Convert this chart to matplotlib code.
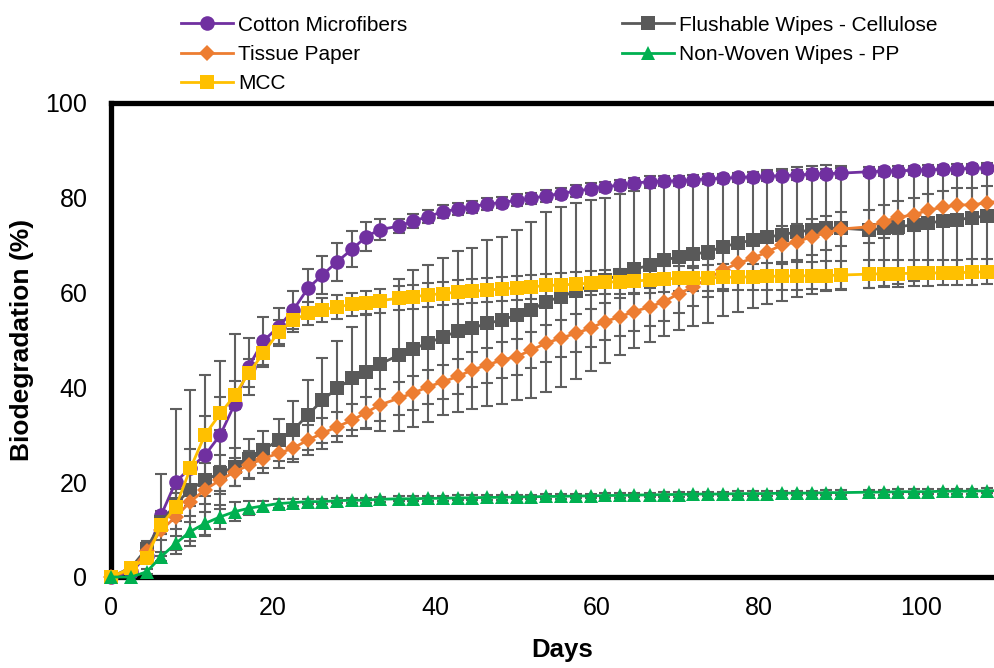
import matplotlib
matplotlib.use("Agg")
import matplotlib.pyplot as plt

plt.rcParams['font.family'] = ['Liberation Sans', 'DejaVu Sans']

days = [0, 2.5, 4.4, 6.2, 8.0, 9.8, 11.6, 13.5, 15.3, 17.0, 18.8, 20.7, 22.5, 24.3, 26.1, 27.9, 29.8, 31.5, 33.2,
        35.5, 37.3, 39.1, 41.0, 42.8, 44.6, 46.4, 48.3, 50.1, 51.9, 53.7, 55.5, 57.4, 59.2, 61.0, 62.8, 64.6,
        66.5, 68.3, 70.1, 71.9, 73.7, 75.6, 77.4, 79.2, 81.0, 82.8, 84.7, 86.5, 88.3, 90.1,
        93.6, 95.4, 97.2, 99.1, 100.9, 102.7, 104.5, 106.3, 108.2, 110.0]

cotton = [0, 1.0, 4.5, 13.1, 20.1, 23.0, 25.7, 30.0, 36.6, 44.4, 49.8, 52.8, 56.3, 60.9, 63.7, 66.5, 69.2, 71.8, 73.3,
          74.0, 75.1, 76.0, 77.1, 77.6, 78.1, 78.7, 79.0, 79.5, 79.9, 80.4, 80.9, 81.4, 81.9, 82.3, 82.7, 83.1,
          83.4, 83.5, 83.6, 83.8, 84.0, 84.1, 84.3, 84.4, 84.5, 84.7, 84.8, 85.0, 85.1, 85.2,
          85.5, 85.6, 85.7, 85.8, 85.9, 86.0, 86.1, 86.2, 86.3, 86.4]
cotton_err = [0, 0.5, 1.5, 8.6, 15.3, 16.4, 17.0, 15.6, 14.7, 6.0, 5.0, 4.0, 4.0, 4.0, 4.0, 4.0, 3.9, 3.0, 2.2,
              1.5, 1.5, 1.4, 1.4, 1.3, 1.3, 1.3, 1.2, 1.2, 1.2, 1.2, 1.2, 1.2, 1.2, 1.1, 1.1, 1.1,
              1.1, 1.1, 1.1, 1.0, 1.0, 1.0, 1.0, 1.0, 1.0, 1.0, 1.0, 1.0, 1.0, 1.0,
              1.0, 1.0, 1.0, 1.0, 1.0, 1.0, 1.0, 1.0, 1.0, 1.0]

flushable = [0, 2.0, 6.0, 11.5, 15.5, 18.4, 20.5, 21.9, 23.3, 25.0, 26.8, 28.9, 31.0, 34.2, 37.3, 39.8, 41.9, 43.3, 44.9,
             46.8, 48.2, 49.3, 50.7, 51.8, 52.5, 53.5, 54.2, 55.3, 56.3, 58.1, 59.1, 60.3, 61.5, 62.6, 63.8, 64.9,
             65.8, 66.8, 67.6, 68.1, 68.6, 69.7, 70.4, 71.1, 71.7, 72.2, 72.8, 73.2, 73.6, 73.6,
             73.2, 73.6, 73.9, 74.3, 74.7, 75.1, 75.4, 75.8, 76.2, 76.5]
flushable_err = [0, 0.5, 1.5, 2.5, 3.0, 3.5, 3.5, 3.8, 4.0, 4.2, 3.9, 4.5, 6.2, 7.4, 9.0, 10.0, 10.9, 12.0, 14.0,
                 16.0, 16.5, 16.5, 16.5, 17.0, 17.0, 17.5, 17.6, 18.0, 18.5, 19.0, 19.0, 18.5, 18.0, 17.4, 17.0, 16.5,
                 16.2, 16.0, 15.5, 15.2, 15.0, 14.7, 14.5, 14.3, 14.1, 13.9, 13.7, 13.5, 13.3, 13.1,
                 12.3, 12.2, 12.0, 11.8, 11.6, 11.4, 11.2, 11.0, 10.8, 10.6]

tissue = [0, 1.5, 5.5, 9.9, 12.7, 15.9, 18.4, 20.5, 22.2, 23.6, 25.0, 26.1, 27.2, 28.9, 30.3, 31.7, 33.1, 34.7, 36.3,
          37.7, 38.8, 40.1, 41.2, 42.3, 43.7, 44.7, 45.8, 46.5, 47.9, 49.3, 50.4, 51.4, 52.5, 53.9, 54.9, 56.0,
          57.0, 58.1, 59.8, 61.2, 63.0, 64.8, 66.2, 67.2, 68.6, 70.0, 70.7, 71.8, 72.6, 73.4,
          73.9, 75.0, 75.9, 76.4, 77.4, 78.0, 78.5, 78.5, 79.0, 79.3]
tissue_err = [0, 0.5, 1.0, 2.0, 2.5, 3.0, 3.0, 3.0, 3.0, 3.0, 3.0, 3.0, 3.0, 3.2, 3.2, 3.2, 3.3, 3.3, 3.4,
              3.5, 3.5, 3.5, 3.6, 3.6, 3.7, 3.7, 3.8, 3.8, 3.8, 3.9, 3.9, 4.0, 4.0, 4.0, 4.0, 4.0,
              4.0, 4.0, 4.0, 4.0, 4.0, 4.0, 4.0, 4.0, 4.0, 4.0, 3.8, 3.8, 3.6, 3.6,
              3.5, 3.5, 3.5, 3.5, 3.5, 3.5, 3.5, 3.5, 3.5, 3.5]

pp = [0, 0, 1.1, 4.3, 7.1, 9.6, 11.3, 12.7, 13.8, 14.5, 15.0, 15.5, 15.7, 15.9, 15.9, 16.1, 16.2, 16.2, 16.4,
      16.5, 16.5, 16.6, 16.6, 16.7, 16.7, 16.8, 16.8, 16.9, 16.9, 17.0, 17.0, 17.1, 17.1, 17.2, 17.2, 17.3,
      17.3, 17.4, 17.4, 17.5, 17.5, 17.5, 17.6, 17.6, 17.6, 17.7, 17.7, 17.7, 17.8, 17.8,
      17.9, 17.9, 18.0, 18.0, 18.0, 18.1, 18.1, 18.1, 18.2, 18.2]
pp_err = [0, 0, 0.5, 1.0, 1.5, 2.0, 2.5, 2.5, 2.0, 1.5, 1.0, 1.0, 0.8, 0.6, 0.6, 0.5, 0.5, 0.5, 0.5,
          0.5, 0.5, 0.5, 0.5, 0.5, 0.5, 0.5, 0.5, 0.5, 0.5, 0.5, 0.5, 0.5, 0.5, 0.5, 0.5, 0.5,
          0.5, 0.5, 0.5, 0.5, 0.5, 0.5, 0.5, 0.5, 0.5, 0.5, 0.5, 0.5, 0.5, 0.5,
          0.5, 0.5, 0.5, 0.5, 0.5, 0.5, 0.5, 0.5, 0.5, 0.5]

mcc = [0, 1.9, 4.0, 11.0, 14.8, 22.9, 30.0, 34.5, 38.4, 43.0, 47.2, 51.7, 54.2, 55.6, 56.3, 57.0, 57.5, 57.9, 58.3,
       58.8, 59.1, 59.5, 59.8, 60.1, 60.3, 60.5, 60.8, 61.0, 61.2, 61.5, 61.6, 61.8, 62.0, 62.2, 62.3, 62.4,
       62.7, 62.9, 63.0, 63.0, 63.1, 63.2, 63.3, 63.3, 63.4, 63.5, 63.5, 63.6, 63.6, 63.7,
       63.9, 64.0, 64.0, 64.1, 64.1, 64.2, 64.2, 64.3, 64.4, 64.4]
mcc_err = [0, 0.5, 1.0, 2.0, 3.0, 4.0, 4.0, 3.5, 3.0, 3.0, 3.0, 2.5, 2.5, 2.5, 2.5, 2.5, 2.5, 2.5, 2.5,
           2.5, 2.5, 2.5, 2.5, 2.5, 2.5, 2.5, 2.5, 2.5, 2.5, 2.5, 2.5, 2.6, 2.6, 2.6, 2.6, 2.6,
           2.7, 2.7, 2.7, 2.7, 2.8, 2.8, 2.8, 2.8, 2.9, 2.9, 2.9, 2.9, 3.0, 3.0,
           2.9, 2.9, 2.8, 2.8, 2.8, 2.7, 2.7, 2.7, 2.6, 2.6]

labels = ["Cotton Microfibers", "Flushable Wipes - Cellulose", "Tissue Paper", "Non-Woven Wipes - PP", "MCC"]
colors = ["#7030A0", "#595959", "#ED7D31", "#00B050", "#FFC000"]
markers = ["o", "s", "D", "^", "s"]
msizes = [10.5, 10, 8.5, 9.5, 10]
series = [cotton, flushable, tissue, pp, mcc]
errors = [cotton_err, flushable_err, tissue_err, pp_err, mcc_err]
zorders = [4, 5, 6, 8, 7]

x_right = 111.4
fig = plt.figure(figsize=(9.95, 6.68), dpi=100)
ax = fig.add_axes([111 / 995, (668 - 577) / 668, (x_right * 8.1) / 995, 474 / 668])

for vals, err in zip(series, errors):
    ax.errorbar(days, vals, yerr=err, fmt='none', ecolor='#5f5f5f', elinewidth=1.5,
                capsize=4, capthick=1.5, zorder=3, clip_on=False)

handles = []
for vals, lab, c, m, ms, z in zip(series, labels, colors, markers, msizes, zorders):
    h, = ax.plot(days, vals, color=c, marker=m, markersize=ms, linewidth=2, label=lab,
                 markeredgewidth=0, zorder=z, clip_on=False)
    handles.append(h)

ax.set_xlim(0, x_right)
ax.set_ylim(0, 100)
ax.set_xticks([0, 20, 40, 60, 80, 100])
ax.set_yticks([0, 20, 40, 60, 80, 100])
ax.tick_params(axis='x', length=0, labelsize=18, pad=14)
ax.tick_params(axis='y', length=0, labelsize=18, pad=17)
for s in ['top', 'left', 'bottom']:
    ax.spines[s].set_linewidth(3.8)
    ax.spines[s].set_color('black')
ax.spines['right'].set_visible(False)

ax.set_xlabel("Days", fontsize=18.5, fontweight='bold', labelpad=13)
ax.set_ylabel("Biodegradation (%)", fontsize=19, fontweight='bold', labelpad=8)

order = [0, 2, 4, 1, 3]
leg = fig.legend([handles[i] for i in order], [labels[i] for i in order], ncol=2,
                 loc='upper left', bbox_to_anchor=(165 / 995, 1.0), frameon=False,
                 fontsize=15, handlelength=2.5, handletextpad=0.25, columnspacing=10.3,
                 labelspacing=0.5, borderpad=0.25)

fig.savefig("out.png", dpi=100)
